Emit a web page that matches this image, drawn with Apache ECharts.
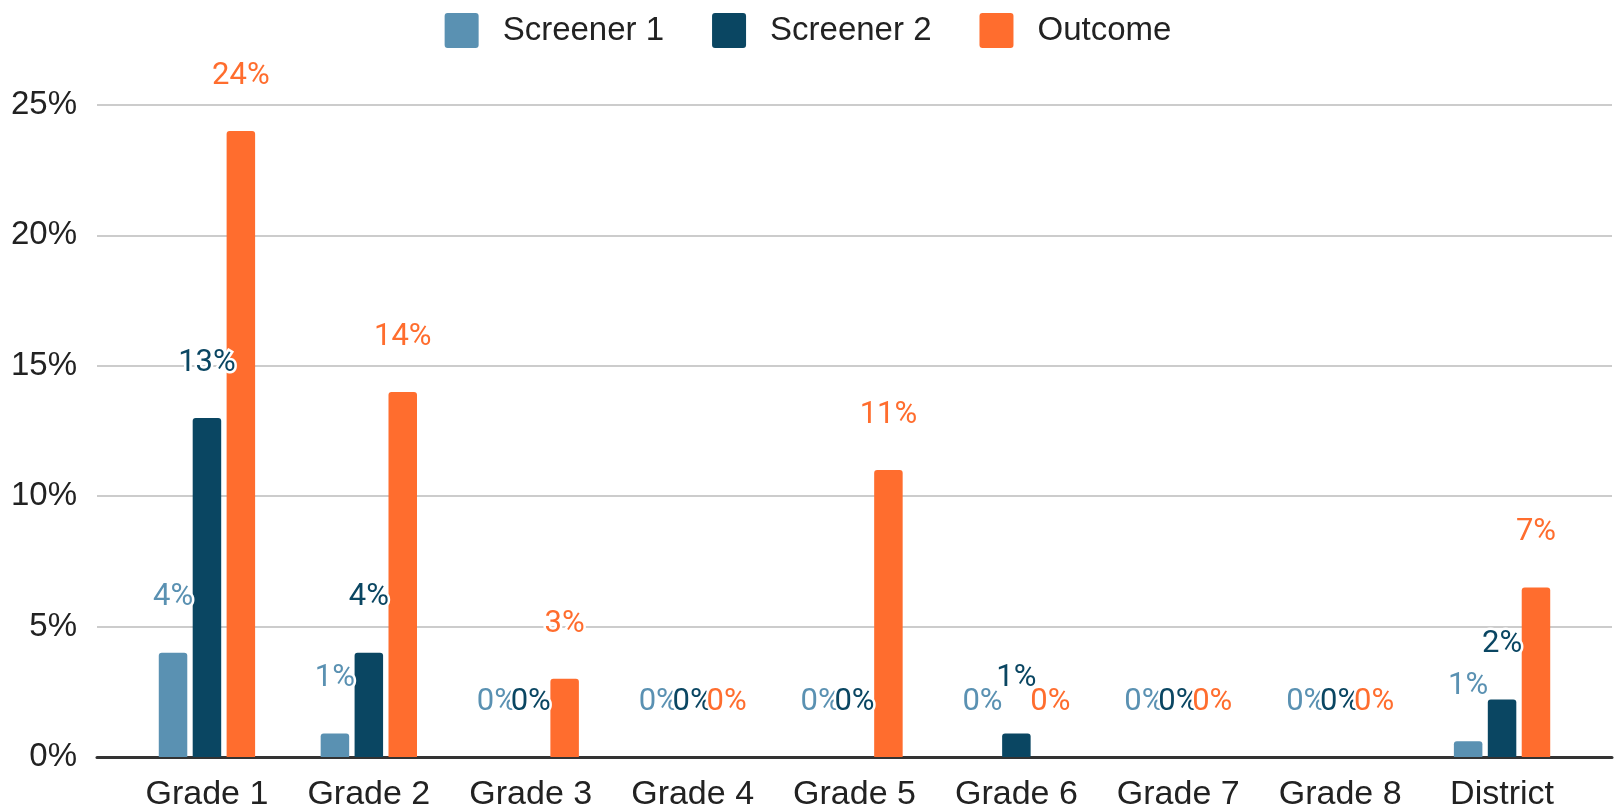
<!DOCTYPE html>
<html>
<head>
<meta charset="utf-8">
<title>Screener and Outcome Rates by Grade</title>
<script src="https://cdn.jsdelivr.net/npm/echarts@6/dist/echarts.min.js"></script>
<style>
  html, body { margin: 0; padding: 0; background: #ffffff; }
  #chart { width: 1616px; height: 812px; }
</style>
</head>
<body>
<div id="chart"></div>
<script>
// Categories and series values (percent)
const categories = ['Grade 1', 'Grade 2', 'Grade 3', 'Grade 4', 'Grade 5', 'Grade 6', 'Grade 7', 'Grade 8', 'District'];
const screener1 = [4, 0.9, 0, 0, 0, 0, 0, 0, 0.6];
const screener2 = [13, 4, 0, 0, 0, 0.9, 0, 0, 2.2];
const outcome = [24, 14, 3, 0, 11, 0, 0, 0, 6.5];
const yTicks = [0, 5, 10, 15, 20, 25];

const seriesNames = ['Screener 1', 'Screener 2', 'Outcome'];
const seriesColors = ['#5A91B2', '#0A4662', '#FF6D2E'];
const seriesData = [screener1, screener2, outcome];

const yMin = yTicks[0];
const yMax = yTicks[yTicks.length - 1];
const yStep = yTicks[1] - yTicks[0];

const chart = echarts.init(document.getElementById('chart'), null, { renderer: 'canvas' });

const axisFont = '"Liberation Sans", Arial, sans-serif';
const labelFont = 'Roboto, "Liberation Sans", sans-serif';

// square legend swatch with slightly rounded corners
const swatch = 'path://M3,0 H31 Q34,0 34,3 V32 Q34,35 31,35 H3 Q0,35 0,32 V3 Q0,0 3,0 Z';

const option = {
  backgroundColor: '#ffffff',
  animation: false,
  legend: {
    top: 8,
    left: 'center',
    icon: swatch,
    itemWidth: 34,
    itemHeight: 35,
    itemGap: 48,
    data: seriesNames,
    textStyle: {
      fontFamily: axisFont,
      fontSize: 33,
      color: '#222222',
      padding: [0, 0, 0, 19]
    }
  },
  grid: [
    // frame: gridlines, y labels and the baseline
    { left: 97, right: 4, top: 105, bottom: 55, containLabel: false },
    // bars
    { left: 126, right: 33, top: 105, bottom: 55, containLabel: false }
  ],
  xAxis: [
    {
      type: 'value', gridIndex: 0, min: 0, max: 1,
      axisLine: { show: true, onZero: false, lineStyle: { color: '#333333', width: 3 } },
      axisTick: { show: false },
      axisLabel: { show: false },
      splitLine: { show: false }
    },
    {
      type: 'category', gridIndex: 1, data: categories,
      axisLine: { show: false },
      axisTick: { show: false },
      axisLabel: {
        fontFamily: axisFont,
        fontSize: 34,
        lineHeight: 34,
        color: '#222222',
        margin: 21
      },
      splitLine: { show: false }
    }
  ],
  yAxis: [
    {
      type: 'value', gridIndex: 0, min: yMin, max: yMax, interval: yStep,
      axisLine: { show: false },
      axisTick: { show: false },
      axisLabel: {
        fontFamily: axisFont,
        fontSize: 33,
        color: '#222222',
        margin: 20,
        formatter: v => v + '%'
      },
      splitLine: { show: true, lineStyle: { color: '#cccccc', width: 2 } }
    },
    {
      type: 'value', gridIndex: 1, min: yMin, max: yMax, interval: yStep,
      show: false,
      splitLine: { show: false }
    }
  ],
  series: seriesNames.map((name, i) => ({
    name: name,
    type: 'bar',
    xAxisIndex: 1,
    yAxisIndex: 1,
    data: seriesData[i],
    barWidth: 28.5,
    barGap: '19%',
    itemStyle: { color: seriesColors[i], borderRadius: [3, 3, 0, 0] },
    label: {
      show: true,
      position: 'top',
      distance: 39,
      fontFamily: labelFont,
      fontSize: 31,
      lineHeight: 32,
      color: seriesColors[i],
      textBorderColor: '#ffffff',
      textBorderWidth: 5,
      formatter: p => Math.round(p.value) + '%'
    }
  }))
};

chart.setOption(option);
</script>
</body>
</html>
